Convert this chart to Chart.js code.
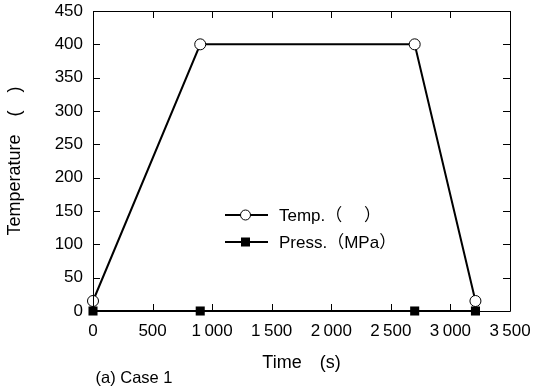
<!DOCTYPE html>
<html>
<head>
<meta charset="utf-8">
<script src="https://cdn.jsdelivr.net/npm/chart.js@4.4.0/dist/chart.umd.min.js"></script>
<style>
html,body{margin:0;padding:0;background:#fff;}
#wrap{width:533px;height:391px;position:relative;}
</style>
</head>
<body>
<div id="wrap"><canvas id="c" width="533" height="391"></canvas></div>
<script>
// ---- data ----
const timeValues = [0, 900, 2700, 3210];
const tempValues = [15, 400, 400, 15];
const pressValues = [0, 0, 0, 0];
const xTicks = [0, 500, 1000, 1500, 2000, 2500, 3000, 3500];
const yTicks = [0, 50, 100, 150, 200, 250, 300, 350, 400, 450];
const seriesNames = ["Temp.（　 ）", "Press.（MPa）"];
const xTitle = "Time　(s)";
const yTitle = "Temperature　(　)";
const caption = "(a) Case 1";

const FONT = "'Liberation Sans', Arial, 'Noto Sans CJK SC', sans-serif";

function fmt(v){
  const s = String(v);
  if (s.length > 3) return s.slice(0, s.length-3) + '\u2009' + s.slice(-3);
  return s;
}

const tempData = timeValues.map((t,i)=>({x:t, y:tempValues[i]}));
const pressData = timeValues.map((t,i)=>({x:t, y:pressValues[i]}));

const frame = {
  id: 'frame',
  afterDatasetsDraw(chart){
    const {ctx, chartArea:a, scales:{x, y}} = chart;
    ctx.save();
    ctx.strokeStyle = '#000';
    ctx.lineWidth = 1;
    ctx.beginPath();
    ctx.rect(Math.round(a.left)+0.5, Math.round(a.top)+0.5, Math.round(a.right-a.left), Math.round(a.bottom-a.top));
    ctx.stroke();
    const tl = 7;
    ctx.beginPath();
    xTicks.forEach(v=>{
      const px = Math.round(x.getPixelForValue(v))+0.5;
      ctx.moveTo(px, a.bottom); ctx.lineTo(px, a.bottom - tl);
      ctx.moveTo(px, a.top); ctx.lineTo(px, a.top + tl);
    });
    yTicks.forEach(v=>{
      const py = Math.round(y.getPixelForValue(v))+0.5;
      ctx.moveTo(a.left, py); ctx.lineTo(a.left + tl, py);
      ctx.moveTo(a.right, py); ctx.lineTo(a.right - tl, py);
    });
    ctx.stroke();
    ctx.restore();
  },
  afterDraw(chart){
    const {ctx, chartArea:a} = chart;
    ctx.save();
    ctx.fillStyle = '#000';
    // axis titles
    ctx.font = '18px ' + FONT;
    ctx.textAlign = 'center';
    ctx.textBaseline = 'middle';
    ctx.fillText(xTitle, (a.left + a.right)/2, 363);
    ctx.save();
    ctx.translate(15, (a.top + a.bottom)/2);
    ctx.rotate(-Math.PI/2);
    ctx.fillText(yTitle, 0, 0);
    ctx.restore();
    ctx.font = '16.5px ' + FONT;
    ctx.fillText(caption, 134, 378);
    // legend
    const rows = [
      {name: seriesNames[0], y: 215, style: 'circle'},
      {name: seriesNames[1], y: 242, style: 'rect'}
    ];
    ctx.font = '17px ' + FONT;
    ctx.textAlign = 'left';
    rows.forEach(r=>{
      ctx.strokeStyle = '#000';
      ctx.lineWidth = 2;
      ctx.beginPath();
      ctx.moveTo(225, r.y); ctx.lineTo(268, r.y);
      ctx.stroke();
      if (r.style === 'circle'){
        ctx.beginPath();
        ctx.arc(245.5, r.y, 5, 0, Math.PI*2);
        ctx.fillStyle = '#fff'; ctx.fill();
        ctx.lineWidth = 1; ctx.stroke();
      } else {
        ctx.fillStyle = '#000';
        ctx.fillRect(241, r.y-4.5, 9, 9);
      }
      ctx.fillStyle = '#000';
      ctx.fillText(r.name, 279, r.y+1);
    });
    ctx.restore();
  }
};

new Chart(document.getElementById('c'), {
  type: 'scatter',
  data: {
    datasets: [
      {
        label: seriesNames[1],
        data: pressData,
        showLine: true,
        borderColor: '#000',
        borderWidth: 2.2,
        backgroundColor: '#000',
        pointStyle: 'rect',
        pointRadius: 6.4,
        pointBorderWidth: 0,
        pointBackgroundColor: '#000',
        clip: false
      },
      {
        label: seriesNames[0],
        data: tempData,
        showLine: true,
        borderColor: '#000',
        borderWidth: 2,
        pointStyle: 'circle',
        pointRadius: 5.5,
        pointBorderWidth: 1,
        pointBorderColor: '#000',
        pointBackgroundColor: '#fff',
        clip: false
      }
    ]
  },
  options: {
    responsive: false,
    animation: false,
    devicePixelRatio: 1,
    layout: {padding: {left: 0, top: 11, right: 23, bottom: 0}},
    plugins: {legend: {display: false}, tooltip: {enabled: false}},
    scales: {
      x: {
        type: 'linear',
        min: 0, max: 3500,
        afterBuildTicks: s => { s.ticks = xTicks.map(v=>({value:v})); },
        afterFit: s => { s.height = 80; s.paddingLeft = 0; s.paddingRight = 0; },
        grid: {display: false, drawTicks: false},
        border: {display: false},
        ticks: {
          color: '#000',
          padding: 10,
          maxRotation: 0,
          autoSkip: false,
          font: {family: FONT, size: 17},
          callback: v => fmt(v)
        }
      },
      y: {
        type: 'linear',
        min: 0, max: 450,
        afterBuildTicks: s => { s.ticks = yTicks.map(v=>({value:v})); },
        afterFit: s => { s.width = 93; s.paddingTop = 0; s.paddingBottom = 0; },
        grid: {display: false, drawTicks: false},
        border: {display: false},
        ticks: {
          color: '#000',
          padding: 10,
          autoSkip: false,
          font: {family: FONT, size: 17},
          callback: v => String(v)
        }
      }
    }
  },
  plugins: [frame]
});
</script>
</body>
</html>
